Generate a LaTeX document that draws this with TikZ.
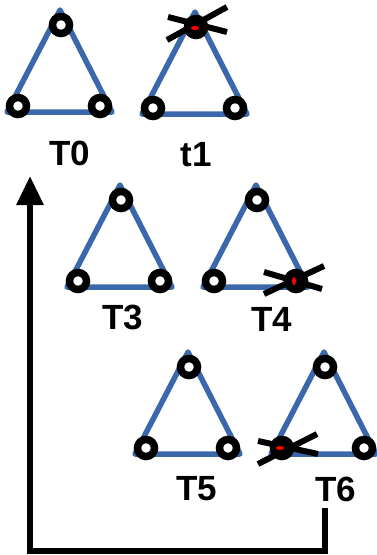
\documentclass[tikz,border=0pt]{standalone}
\usepackage{fontspec}
\setmainfont{Liberation Sans}
\usetikzlibrary{arrows.meta}
\definecolor{edgeblue}{RGB}{59,104,170}

\begin{document}
\begin{tikzpicture}[x=1pt,y=-1pt,
    vtx/.style={circle,draw,line width=7.5pt,fill=white,inner sep=0pt,minimum size=17pt},
    hit/.style={vtx,fill=black},
    edge/.style={edgeblue,line width=5.5pt,line join=round},
    cross/.style={line width=6pt},
    lbl/.style={font=\fontsize{35}{35}\selectfont\bfseries,anchor=base}]
    \useasboundingbox (0,0) rectangle (377,555);
    % triangles: name / apex x / apex y / vertex styles
    \foreach \n/\cx/\ty/\sa/\sl/\sr in {T0/60/8/vtx/vtx/vtx, t1/195/10/hit/vtx/vtx,
        T3/120/183/vtx/vtx/vtx, T4/256/183/vtx/vtx/hit,
        T5/188/350/vtx/vtx/vtx, T6/324/350/vtx/hit/vtx}{
        \coordinate (\n-a) at (\cx,\ty+2);
        \coordinate (\n-l) at (\cx-53,\ty+104);
        \coordinate (\n-r) at (\cx+52,\ty+104);
        \draw[edge] (\n-a) -- (\n-l) -- (\n-r) -- cycle;
        \node[\sa] (\n-1) at (\cx+1,\ty+17) {};
        \node[\sl] (\n-2) at (\cx-42,\ty+98) {};
        \node[\sr] (\n-3) at (\cx+40,\ty+98) {};
    }
    % crossed out vertices
    \draw[cross] ([shift={(-29,13)}]t1-1.center) -- ([shift={(31,-20)}]t1-1.center);
    \draw[cross] ([shift={(-28,-10)}]t1-1.center) -- ([shift={(31,5)}]t1-1.center);
    \draw[cross] ([shift={(-32,13)}]T4-3.center) -- ([shift={(28,-15)}]T4-3.center);
    \draw[cross] ([shift={(-32,-9)}]T4-3.center) -- ([shift={(26,8)}]T4-3.center);
    \draw[cross] ([shift={(-24,16)}]T6-2.center) -- ([shift={(35,-14)}]T6-2.center);
    \draw[cross] ([shift={(-24,-7)}]T6-2.center) -- ([shift={(36,6)}]T6-2.center);
    \fill[red] ([shift={(-1,1)}]t1-1.center) ellipse (4 and 2);
    \fill[red] ([shift={(-2,0)}]T4-3.center) ellipse (2 and 4);
    \fill[red] ([shift={(-2,0)}]T6-2.center) ellipse (4 and 2);
    \node[lbl] (T0-lbl) at (70,165) {T0};
    \node[lbl] (t1-lbl) at (196,166) {t1};
    \node[lbl] (T3-lbl) at (123,329) {T3};
    \node[lbl] (T4-lbl) at (272,331) {T4};
    \node[lbl] (T5-lbl) at (197,500) {T5};
    \node[lbl] (T6-lbl) at (336,501) {T6};
    % loop back
    \coordinate (back-s) at (325,508);
    \coordinate (back-c) at (325,551);
    \coordinate (back-e) at (30,176);
    \draw[line width=6pt,-{Triangle[length=29pt,width=26pt]}] (back-s) -- (back-c) -| (back-e);
\end{tikzpicture}
\end{document}
